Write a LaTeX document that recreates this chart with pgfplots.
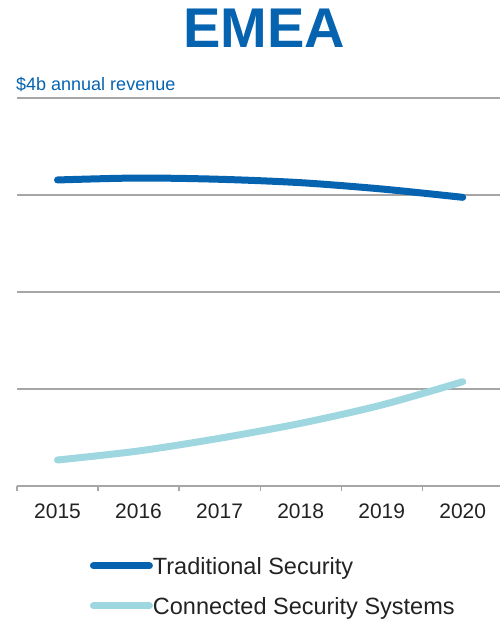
\documentclass[border=0pt]{standalone}
\usepackage{fontspec}
\setmainfont{Liberation Sans}
\usepackage{pgfplots}
\pgfplotsset{compat=1.18}

\definecolor{tradblue}{HTML}{0563B0}
\definecolor{connblue}{HTML}{9FD7E1}
\definecolor{gridgrey}{HTML}{A6A6A6}
\definecolor{txt}{HTML}{222222}

\begin{document}
\begin{tikzpicture}
\useasboundingbox (0,0) rectangle (500bp,620bp);
\node[anchor=base, inner sep=0, text=tradblue, font=\fontsize{56bp}{60bp}\selectfont\bfseries] at (264bp,572bp) {EMEA};
\node[anchor=base west, inner sep=0, text=tradblue, font=\fontsize{18bp}{20bp}\selectfont] at (16bp,529bp) {\$4b annual revenue};
\begin{axis}[
    at={(17bp,134bp)}, anchor=south west,
    scale only axis, width=483bp, height=388bp,
    xmin=-0.5, xmax=5.46, ymin=0, ymax=4,
    axis x line*=bottom, axis y line*=left,
    x axis line style={gridgrey, line width=1.2bp},
    y axis line style={draw=none},
    xtick={0,...,5},
    xticklabels={2015,2016,2017,2018,2019,2020},
    major tick length=0pt,
    minor xtick={-0.5,0.5,1.5,2.5,3.5,4.5},
    minor tick length=5bp,
    tick align=outside,
    minor tick style={gridgrey, line width=1.2bp},
    xticklabel style={font=\fontsize{21bp}{24bp}\selectfont, text=txt, yshift=-14bp},
    ytick={1,2,3,4}, yticklabels={},
    ymajorgrids, grid style={gridgrey, line width=1.2bp},
    clip=false,
    legend style={at={(0.151,-0.184)}, anchor=north west, draw=none, fill=none,
        font=\fontsize{23.5bp}{26bp}\selectfont, text=txt,
        row sep=23bp, inner sep=0pt, outer sep=0pt,
        nodes={inner sep=0pt, text depth=0pt}},
    legend cell align=left,
    legend image code/.code={\draw[#1, line cap=round] (0bp,0bp) -- (56bp,0bp);},
    legend columns=1,
]
\addplot[tradblue, line width=7bp, line cap=round, smooth, tension=0.5] coordinates {
    (0,3.155) (1,3.175) (2,3.162) (3,3.127) (4,3.062) (5,2.976)
};
\addlegendentry{Traditional Security}
\addplot[connblue, line width=7bp, line cap=round, smooth, tension=0.5] coordinates {
    (0,0.268) (1,0.361) (2,0.492) (3,0.646) (4,0.835) (5,1.075)
};
\addlegendentry{Connected Security Systems}
\end{axis}
\end{tikzpicture}
\end{document}
